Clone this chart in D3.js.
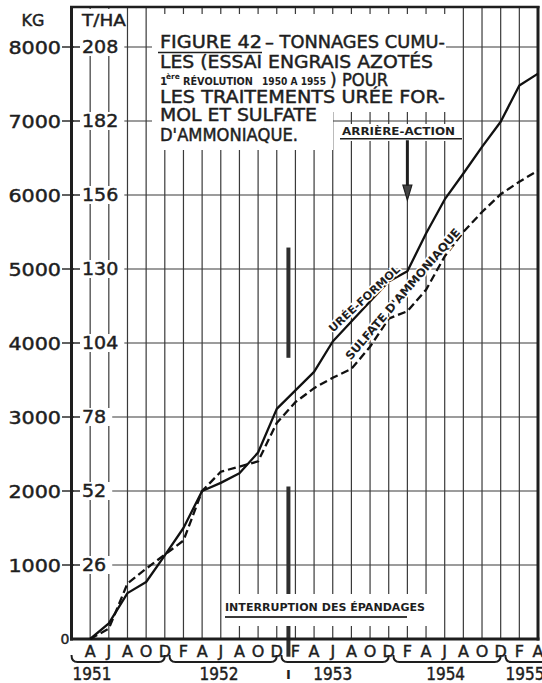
<!DOCTYPE html>
<html>
<head>
<meta charset="utf-8">
<script src="https://cdn.jsdelivr.net/npm/d3@7"></script>
<style>
  html, body { margin: 0; padding: 0; background: #fff; }
  svg { display: block; }
  text { font-family: "DejaVu Sans", sans-serif; fill: #1e1e1e; }
  .heavy { stroke: #1e1e1e; stroke-width: 0.45px; }
</style>
</head>
<body>
<svg id="chart" width="542" height="683"></svg>
<script>
// Sampling dates, every two months from April 1951 to April 1955
const periods = ["1951-04","1951-06","1951-08","1951-10","1951-12",
                 "1952-02","1952-04","1952-06","1952-08","1952-10","1952-12",
                 "1953-02","1953-04","1953-06","1953-08","1953-10","1953-12",
                 "1954-02","1954-04","1954-06","1954-08","1954-10","1954-12",
                 "1955-02","1955-04"];
const monthLetters = ["A","J","A","O","D","F","A","J","A","O","D","F","A",
                      "J","A","O","D","F","A","J","A","O","D","F","A"];

// Cumulative tonnage (kg) for each treatment
const ureeFormol = [0, 210, 620, 770, 1130, 1500, 2000, 2110, 2240, 2520, 3110, 3360,
                    3610, 4020, 4290, 4560, 4830, 4970, 5480, 5940, 6290, 6650, 6990, 7480, 7640];
const sulfateAmmoniaque = [0, 140, 750, 950, 1140, 1330, 2000, 2260, 2330, 2400, 2920, 3200,
                           3390, 3530, 3650, 3950, 4330, 4430, 4720, 5170, 5500, 5770, 6010, 6180, 6330];

// Paired axis ticks: kg and t/ha
const kgTicks = [1000, 2000, 3000, 4000, 5000, 6000, 7000, 8000];
const thaTicks = [26, 52, 78, 104, 130, 156, 182, 208];

// Year labels under the month row
const years = ["1951", "1952", "1953", "1954", "1955"];
const yearLabelMonths = [3.2, 16.8, 29, 41.1, 49.6];
const yearBreaks = ["1951-12", "1952-12", "1953-12", "1954-12"];

// Annotations (month index, kg)
const interruptMonth = 24.25;
const interruptSegments = [[3800, 5290], [2060, -240]];
const arrowMonth = "1954-02";
const arrowRange = [6740, 5930];

const monthIndex = s => { const [yy, mm] = s.split("-").map(Number); return (yy - 1951) * 12 + (mm - 1); };
const xStart = monthIndex("1951-02"), xEnd = monthIndex("1955-04");

const x = d3.scaleLinear().domain([xStart, xEnd]).range([71.5, 538]);
const y = d3.scaleLinear().domain([0, 8000]).range([639, 47]);
const plotTop = 7;

const svg = d3.select("#chart");
const ink = "#1e1e1e";

// ---- grid ----
const gGrid = svg.append("g").attr("stroke", "#3a3a3a").attr("stroke-width", 1.2);
gGrid.selectAll("line.v").data(periods).join("line")
  .attr("x1", d => x(monthIndex(d))).attr("x2", d => x(monthIndex(d)))
  .attr("y1", plotTop).attr("y2", y(0));
gGrid.selectAll("line.h").data(kgTicks).join("line")
  .attr("x1", x(xStart)).attr("x2", x(xEnd))
  .attr("y1", d => y(d)).attr("y2", d => y(d));

// ---- interruption marker ----
const gInt = svg.append("g").attr("stroke", "#2e2e2e").attr("stroke-width", 4);
gInt.selectAll("line").data(interruptSegments).join("line")
  .attr("x1", x(interruptMonth)).attr("x2", x(interruptMonth))
  .attr("y1", d => y(d[0])).attr("y2", d => y(d[1]));

// ---- white areas behind text ----
const gMask = svg.append("g").attr("fill", "#fff");
const gFrame = svg.append("g");
const gCurves = svg.append("g");
const gText = svg.append("g");

function stext(g, str, px, py, size, sx, anchor, weight) {
  return g.append("text")
    .attr("transform", `translate(${px},${py}) scale(${sx},1)`)
    .attr("text-anchor", anchor || "start")
    .attr("font-size", size).attr("font-weight", weight || "normal")
    .attr("class", weight === "bold" ? null : "heavy")
    .text(str);
}
function ftext(g, str, px, py, size, width, weight) {
  return g.append("text").attr("x", px).attr("y", py)
    .attr("font-size", size).attr("font-weight", weight || "normal")
    .attr("class", weight === "bold" ? null : "heavy")
    .attr("textLength", width).attr("lengthAdjust", "spacingAndGlyphs")
    .text(str);
}
function maskRect(x0, y0, x1, y1) {
  gMask.append("rect").attr("x", x0).attr("y", y0).attr("width", x1 - x0).attr("height", y1 - y0);
}

// Title block
maskRect(152, 14, 446, 112);
maskRect(152, 112, 333, 150);
ftext(gText, "FIGURE 42", 160, 48, 17, 102);
ftext(gText, "– TONNAGES CUMU-", 265, 48, 17, 180);
gText.append("line").attr("x1", 158).attr("x2", 262).attr("y1", 52.5).attr("y2", 52.5)
  .attr("stroke", ink).attr("stroke-width", 1.4);
ftext(gText, "LES (ESSAI ENGRAIS AZOTÉS", 160, 68, 17, 273);
stext(gText, "1", 160, 85, 10.5, 1, "start", "bold");
stext(gText, "ère", 166, 78.5, 7.5, 1, "start", "bold");
ftext(gText, "RÉVOLUTION", 183, 85, 10, 70, "bold");
ftext(gText, "1950 A 1955", 262, 85, 10, 64, "bold");
stext(gText, ")", 330, 86, 17, 1, "start");
ftext(gText, "POUR", 342, 86, 17, 46);
ftext(gText, "LES TRAITEMENTS URÉE FOR-", 160, 103, 17, 285);
ftext(gText, "MOL ET SULFATE", 160, 121, 17, 157);
ftext(gText, "D'AMMONIAQUE.", 160, 141, 17, 138);

// Arrière-action label and arrow
const arr = ftext(gText, "ARRIÈRE-ACTION", 342, 135, 10.5, 113, "bold");
gText.append("line").attr("x1", 340).attr("x2", 462).attr("y1", 138.7).attr("y2", 138.7)
  .attr("stroke", ink).attr("stroke-width", 1.5);
{
  const b = arr.node().getBBox();
  maskRect(b.x - 6, b.y - 1, b.x + b.width + 7, 141);
}
const ax = x(monthIndex(arrowMonth));
const aTop = y(arrowRange[0]), aTip = y(arrowRange[1]);
gText.append("line").attr("x1", ax).attr("x2", ax).attr("y1", aTop).attr("y2", aTip - 12)
  .attr("stroke", ink).attr("stroke-width", 3);
gText.append("path")
  .attr("d", `M${ax - 4.5},${aTip - 15} L${ax + 4.5},${aTip - 15} L${ax},${aTip} Z`)
  .attr("fill", "#444").attr("stroke", ink).attr("stroke-width", 1.2);

// Interruption label
const intr = ftext(gText, "INTERRUPTION DES ÉPANDAGES", 225, 611, 10, 200, "bold");
gText.append("line").attr("x1", 225).attr("x2", 407).attr("y1", 617).attr("y2", 617)
  .attr("stroke", "#3a3a3a").attr("stroke-width", 2.2);
{
  const b = intr.node().getBBox();
  maskRect(b.x - 2, 594, b.x + b.width + 3, 626);
}
stext(gText, "I", x(interruptMonth), 679, 13, 1, "middle", "bold");

// Left axis labels: kg and t/ha with shared tick marks
stext(gText, "KG", 33, 26, 16, 1, "middle");
stext(gText, "T/HA", 104, 26, 16, 1.15, "middle");
maskRect(74, 9, 124, y(8000) - 9);
kgTicks.forEach((v, i) => {
  const yy = y(v);
  stext(gText, String(v), 61, yy + 6.5, 18, 1.15, "end");
  const t = stext(gText, String(thaTicks[i]), 82, yy + 6, 17, 1.12, "start");
  const w = t.node().getBBox().width * 1.12;
  maskRect(74, yy - 9, 82 + w + 6, yy + 9);
  gText.append("line").attr("x1", 62).attr("x2", 80).attr("y1", yy).attr("y2", yy)
    .attr("stroke", ink).attr("stroke-width", 1.4);
});
stext(gText, "0", 65, 644, 14, 1, "middle");

// Month and year labels
periods.forEach((p, i) => {
  stext(gText, monthLetters[i], x(monthIndex(p)), 657, 16, 1, "middle");
});
years.forEach((yr, i) => {
  stext(gText, yr, x(yearLabelMonths[i]), 680, 17, 0.9, "middle");
});
// Year braces, separated at each December
const breaks = yearBreaks.map(monthIndex);
const braceSpans = years.map((yr, i) => [i === 0 ? xStart : breaks[i - 1] + 0.5, i < breaks.length ? breaks[i] : xEnd + 1]);
gText.selectAll("path.brace").data(braceSpans).join("path")
  .attr("fill", "none").attr("stroke", ink).attr("stroke-width", 2)
  .attr("d", d => {
    const x0 = x(d[0]), x1 = x(d[1]);
    return `M${x0},655 Q${x0},662 ${x0 + 6},662 L${x1 - 6},662 Q${x1},662 ${x1},655`;
  });

// ---- frame ----
gFrame.append("line").attr("x1", x(xStart)).attr("x2", x(xStart)).attr("y1", plotTop - 1).attr("y2", y(0) + 1.5)
  .attr("stroke", ink).attr("stroke-width", 3);
gFrame.append("line").attr("x1", x(xEnd)).attr("x2", x(xEnd)).attr("y1", plotTop - 1).attr("y2", y(0) + 1.5)
  .attr("stroke", ink).attr("stroke-width", 3);
gFrame.append("line").attr("x1", x(xStart) - 1.5).attr("x2", x(xEnd) + 1.5).attr("y1", plotTop).attr("y2", plotTop)
  .attr("stroke", ink).attr("stroke-width", 2.5);
gFrame.append("line").attr("x1", x(xStart) - 1.5).attr("x2", x(xEnd) + 1.5).attr("y1", y(0)).attr("y2", y(0))
  .attr("stroke", ink).attr("stroke-width", 3);

// ---- curves ----
const toPoints = vals => periods.map((p, i) => ({ t: monthIndex(p), v: vals[i] }));
const line = d3.line().x(d => x(d.t)).y(d => y(d.v));
gCurves.append("path").datum(toPoints(ureeFormol))
  .attr("d", line).attr("fill", "none").attr("stroke", "#111").attr("stroke-width", 2.3)
  .attr("stroke-linejoin", "round");
gCurves.append("path").datum(toPoints(sulfateAmmoniaque))
  .attr("d", line).attr("fill", "none").attr("stroke", "#111").attr("stroke-width", 2.3)
  .attr("stroke-dasharray", "8,4");

// Curve labels along the lines
function curveLabel(str, t, v, angle, width, size) {
  gText.append("text")
    .attr("transform", `translate(${x(t)},${y(v)}) rotate(${angle})`)
    .attr("text-anchor", "middle").attr("dominant-baseline", "central")
    .attr("font-size", size).attr("font-weight", "bold")
    .attr("textLength", width).attr("lengthAdjust", "spacingAndGlyphs")
    .attr("stroke", "#fff").attr("stroke-width", 3).attr("paint-order", "stroke")
    .text(str);
}
curveLabel("URÉE-FORMOL", 32.4, 4595, -42.5, 92, 11);
curveLabel("SULFATE D'AMMONIAQUE", 36.5, 4662, -49.3, 169, 11.5);
</script>
</body>
</html>
